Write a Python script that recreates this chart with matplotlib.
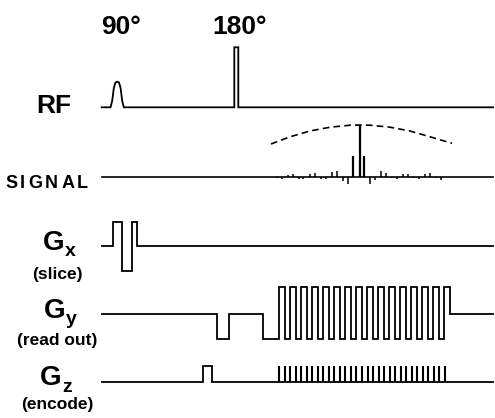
import matplotlib
matplotlib.use("Agg")
import matplotlib.pyplot as plt
import numpy as np

# ---------------- data (schematic timing, x in drawing units) ----------------
line_start, line_end = 101.7, 493.0

# RF channel
rf90_t = [110.5, 112.2, 113.8, 115.5, 117.2, 119.0, 120.6, 122.2, 123.8]
rf90_amp = [0.0, 0.25, 0.75, 0.97, 1.0, 0.97, 0.75, 0.25, 0.0]
rf180_t = [234.3, 238.3]

# Signal: echo positions and amplitudes
echo_t = [276.7, 281.7, 287.7, 292.7, 299.3, 303.3, 310.0, 315.0, 321.0, 326.0,
          331.7, 336.7, 342.7, 347.7, 352.7, 359.5, 364.3, 370.0, 375.0, 380.7,
          386.0, 391.7, 396.7, 402.7, 408.3, 413.3, 419.3, 425.0, 430.0, 436.0, 441.0]
echo_amp = [-1, -2, 2, 3, -2, -2, 3, 4, -2, -2,
            5, 6, -4, -7.5, 21, 51.7, 21, -7, -3, 6,
            4, -1, -2, 3, 3, -1, -2, 3, 4, -1, -3]
env_t = [271, 290, 310, 330, 350, 360, 370, 390, 410, 430, 452]
env_amp = [32.7, 39.9, 45.7, 49.5, 51.5, 51.7, 51.5, 49.5, 45.7, 39.9, 33.4]

# Gx (slice) gradient edges and levels
gx_edges = [112.7, 121.5, 131.5, 136.7]
gx_levels = [1, -1, 1]

# Gy (read out) gradient
gy_prephase = [216.7, 229.3]
gy_dephase_start = 262.5
gy_train_start, gy_train_end = 279.0, 450.0
gy_n_lobes = 31

# Gz (encode) gradient
gz_prephase = [202.7, 211.7]
gz_n_blips = 31
gz_blip_start, gz_blip_end = 279.0, 445.0

# channel labels
channel_labels = [("G", "x", "(slice)"), ("G", "y", "(read out)"), ("G", "z", "(encode)")]
signal_label = "SIGNAL"

# channel baselines (drawing units)
base = {"RF": 107.3, "SIG": 176.7, "GX": 245.7, "GY": 313.5, "GZ": 382.0}

# ---------------- figure ----------------
fig = plt.figure(figsize=(4.95, 4.18), dpi=100)
ax = fig.add_axes([0, 0, 1, 1])
ax.set_xlim(0, 495)
ax.set_ylim(418, 0)
ax.axis("off")

lw = 1.3
col = "black"
font = dict(family="Liberation Sans", weight="bold", color="black")

# RF
y0 = base["RF"]
rf_h90 = 25.6
rf_h180 = 60.0
xs = [line_start] + rf90_t + [rf180_t[0], rf180_t[0], rf180_t[1], rf180_t[1], line_end]
ys = [y0] + [y0 - rf_h90 * a for a in rf90_amp] + [y0, y0 - rf_h180, y0 - rf_h180, y0, y0]
ax.plot(xs, ys, color=col, lw=lw, solid_joinstyle="miter")

# Signal
y0 = base["SIG"]
ax.plot([line_start, line_end], [y0, y0], color=col, lw=1.2)
for t, a in zip(echo_t, echo_amp):
    ax.plot([t, t], [y0, y0 - a], color=col, lw=1.6 if abs(a) > 15 else 1.1,
            solid_capstyle="butt")
ax.plot(env_t, [y0 - a for a in env_amp], color=col, lw=1.2, ls=(0, (4, 2.5)))

# Gx
y0 = base["GX"]
gx_h_up, gx_h_dn = 24.0, 25.0
xs, ys = [line_start], [y0]
for i, lev in enumerate(gx_levels):
    h = y0 - gx_h_up if lev > 0 else y0 + gx_h_dn
    xs += [gx_edges[i], gx_edges[i], gx_edges[i + 1]]
    ys += [ys[-1], h, h]
xs += [gx_edges[-1], line_end]
ys += [y0, y0]
ax.plot(xs, ys, color=col, lw=lw, solid_joinstyle="miter")

# Gy
y0 = base["GY"]
top, bot = 287.3, 339.2
xs = [line_start, gy_prephase[0], gy_prephase[0], gy_prephase[1], gy_prephase[1],
      gy_dephase_start, gy_dephase_start]
ys = [y0, y0, bot, bot, y0, y0, bot]
edges = np.linspace(gy_train_start, gy_train_end, gy_n_lobes + 1)
cur = bot
for i in range(gy_n_lobes):
    lev = top if i % 2 == 0 else bot
    xs += [edges[i], edges[i], edges[i + 1]]
    ys += [cur, lev, lev]
    cur = lev
xs += [gy_train_end, line_end]
ys += [y0, y0]
ax.plot(xs, ys, color=col, lw=lw, solid_joinstyle="miter")

# Gz
y0 = base["GZ"]
ztop = 366.0
xs = [line_start, gz_prephase[0], gz_prephase[0], gz_prephase[1], gz_prephase[1], line_end]
ys = [y0, y0, ztop, ztop, y0, y0]
ax.plot(xs, ys, color=col, lw=lw, solid_joinstyle="miter")
for t in np.linspace(gz_blip_start, gz_blip_end, gz_n_blips):
    ax.plot([t, t], [y0, ztop], color=col, lw=1.5, solid_capstyle="butt")

# ---------------- labels ----------------
ax.text(101, 27, "90°", fontsize=19, ha="left", va="center", **font)
ax.text(212, 27, "180°", fontsize=19, ha="left", va="center", **font)
ax.text(36, 106, "RF", fontsize=19, ha="left", va="center", **font)

# letter-spaced SIGNAL label
fig.canvas.draw()
renderer = fig.canvas.get_renderer()
x = 5.0
for ch in signal_label:
    t = ax.text(x, 183, ch, fontsize=13, ha="left", va="center", **font)
    bb = t.get_window_extent(renderer=renderer)
    x += bb.width + 3.0

for (lab, sub, sublab), ylab, xg, ysub in zip(channel_labels,
                                              [243, 311, 378], [43, 44, 40],
                                              [274, 341, 405]):
    ax.text(xg, ylab, lab, fontsize=20, ha="left", va="center", **font)
    ax.text(xg + 22, ylab + 9, sub, fontsize=14, ha="left", va="center", **font)
    ax.text(57, ysub, sublab, fontsize=12.5, ha="center", va="center", **font)

fig.savefig("out.png", dpi=100)
